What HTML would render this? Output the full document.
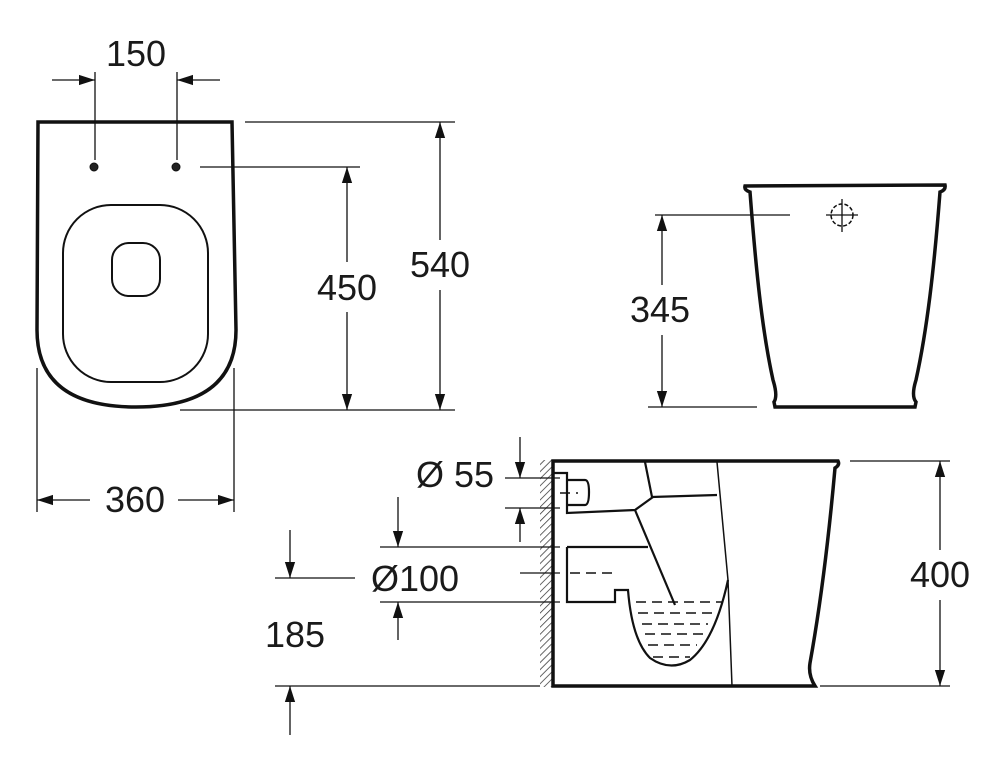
<!DOCTYPE html>
<html><head><style>
body{margin:0;background:#fff;}
svg text{font-family:"Liberation Sans",Arial,sans-serif;font-size:36px;fill:#1a1a1a;text-anchor:middle;}
</style></head><body>
<svg width="1000" height="770" viewBox="0 0 1000 770" xmlns="http://www.w3.org/2000/svg">
<defs>
<marker id="ab" viewBox="0 0 10 10" refX="10" refY="5" markerWidth="16" markerHeight="16" markerUnits="userSpaceOnUse" orient="auto"><path d="M0,1.8 L10,5 L0,8.2z" fill="#111"/></marker>
<pattern id="h" width="5" height="5" patternUnits="userSpaceOnUse" patternTransform="rotate(45)"><line x1="0" y1="0" x2="0" y2="5" stroke="#333" stroke-width="1.5"/></pattern>
</defs>
<g fill="none" stroke="#111">
<path d="M38,122 L232,122 L236,330 Q236,407 136,407 Q37,407 37,330 Z" stroke-width="3.5"/>
<rect x="63" y="205" width="145" height="177" rx="48" stroke-width="2"/>
<rect x="112" y="243" width="48" height="53" rx="17" stroke-width="2"/>
<circle cx="94" cy="167" r="4" fill="#222" stroke-width="1"/>
<circle cx="176" cy="167" r="4" fill="#222" stroke-width="1"/>
<g stroke-width="1.3">
<line x1="95" y1="72" x2="95" y2="160"/><line x1="177" y1="72" x2="177" y2="160"/>
<line x1="52" y1="80" x2="95" y2="80" marker-end="url(#ab)"/>
<line x1="220" y1="80" x2="177" y2="80" marker-end="url(#ab)"/>
<line x1="245" y1="122" x2="455" y2="122"/><line x1="180" y1="410" x2="455" y2="410"/>
<line x1="200" y1="167" x2="360" y2="167"/>
<line x1="440" y1="240" x2="440" y2="122" marker-end="url(#ab)"/>
<line x1="440" y1="290" x2="440" y2="410" marker-end="url(#ab)"/>
<line x1="347" y1="262" x2="347" y2="167" marker-end="url(#ab)"/>
<line x1="347" y1="312" x2="347" y2="410" marker-end="url(#ab)"/>
<line x1="37" y1="368" x2="37" y2="512"/><line x1="234" y1="368" x2="234" y2="512"/>
<line x1="90" y1="500" x2="37" y2="500" marker-end="url(#ab)"/>
<line x1="178" y1="500" x2="234" y2="500" marker-end="url(#ab)"/>
</g>
<path d="M745,186 Q744,190 750,192 C756,270 762,330 773,380 Q778,396 774,402 L775,407 L915,407 L916,402 Q911,396 916,380 C927,330 934,270 940,192 Q946,190 945,185 Z" stroke-width="3.5"/>
<circle cx="842" cy="215" r="11" stroke-width="1.5" stroke-dasharray="4,2"/>
<g stroke-width="1.3">
<line x1="826" y1="215" x2="858" y2="215"/><line x1="842" y1="199" x2="842" y2="232"/>
<line x1="655" y1="215" x2="790" y2="215"/><line x1="648" y1="407" x2="757" y2="407"/>
<line x1="662" y1="285" x2="662" y2="215" marker-end="url(#ab)"/>
<line x1="662" y1="335" x2="662" y2="407" marker-end="url(#ab)"/>
</g>
<rect x="540" y="460" width="12" height="227" fill="url(#h)" stroke="none"/>
<path d="M553,461 L838,461 Q840,465 835,468 Q825,580 810,663 Q808,675 815,686 L553,686 Z" stroke-width="3.5"/>
<g stroke-width="2.2">
<path d="M645,462 L652,497 L717,495"/>
<path d="M717,462 L728,580 L732,686" stroke-width="1.5"/>
<path d="M553,473 L567,473 L567,513 L635,510 L653,497"/>
<path d="M567,480 L585,480 Q589,480 589,492 Q589,505 585,505 L567,505"/>
<path d="M635,510 L675,605"/>
<path d="M567,547 L648,547"/>
<path d="M567,547 L567,602 L615,602 L615,590 L628,590 Q632,640 650,658 Q670,672 690,660 Q715,640 728,580"/>
</g>
<g stroke-width="1.6" stroke-dasharray="10,6">
<line x1="636" y1="602" x2="722" y2="602"/><line x1="638" y1="613" x2="712" y2="613"/>
<line x1="642" y1="624" x2="708" y2="624"/><line x1="645" y1="634" x2="703" y2="634"/>
<line x1="648" y1="645" x2="697" y2="645"/><line x1="653" y1="657" x2="690" y2="657"/>
<line x1="570" y1="573" x2="615" y2="573"/><line x1="560" y1="493" x2="578" y2="493"/>
</g>
<g stroke-width="1.3">
<line x1="850" y1="461" x2="950" y2="461"/><line x1="820" y1="686" x2="950" y2="686"/>
<line x1="940" y1="550" x2="940" y2="461" marker-end="url(#ab)"/>
<line x1="940" y1="600" x2="940" y2="686" marker-end="url(#ab)"/>
<line x1="505" y1="478" x2="560" y2="478"/><line x1="505" y1="508" x2="560" y2="508"/>
<line x1="520" y1="437" x2="520" y2="478" marker-end="url(#ab)"/>
<line x1="520" y1="542" x2="520" y2="508" marker-end="url(#ab)"/>
<line x1="380" y1="547" x2="560" y2="547"/><line x1="380" y1="602" x2="560" y2="602"/>
<line x1="520" y1="573" x2="560" y2="573"/>
<line x1="398" y1="497" x2="398" y2="547" marker-end="url(#ab)"/>
<line x1="398" y1="640" x2="398" y2="602" marker-end="url(#ab)"/>
<line x1="275" y1="578" x2="355" y2="578"/>
<line x1="275" y1="686" x2="540" y2="686"/>
<line x1="290" y1="530" x2="290" y2="578" marker-end="url(#ab)"/>
<line x1="290" y1="735" x2="290" y2="686" marker-end="url(#ab)"/>
</g>
</g>
<text x="136" y="66">150</text>
<text x="440" y="277">540</text>
<text x="347" y="300">450</text>
<text x="135" y="512">360</text>
<text x="660" y="322">345</text>
<text x="940" y="587">400</text>
<text x="455" y="487">Ø 55</text>
<text x="415" y="591">Ø100</text>
<text x="295" y="647">185</text>
</svg>
</body></html>
